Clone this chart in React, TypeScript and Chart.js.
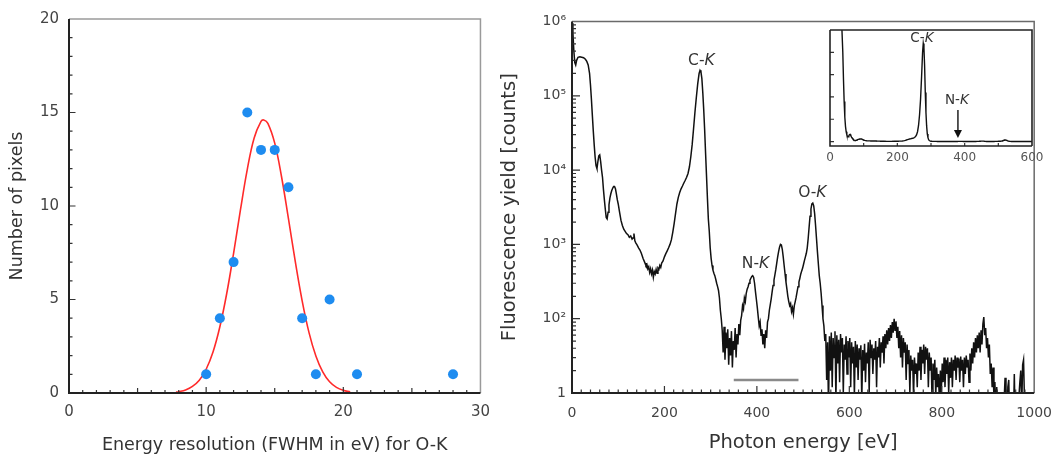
import React, { useEffect, useRef } from 'react';
import { Chart, registerables } from 'chart.js';

Chart.register(...registerables);

// ---------------- Left panel: energy-resolution histogram ----------------
const resolutionEV = [10, 11, 12, 13, 14, 15, 16, 17, 18, 19, 21, 28];
const pixelCounts = [1, 4, 7, 15, 13, 13, 11, 4, 1, 5, 1, 1];
const fitEV = [7.8, 8, 8.5, 9, 9.5, 10, 10.5, 11, 11.5, 12, 12.5, 13, 13.5, 14, 14.2, 14.5, 15, 15.5, 16, 16.5, 17, 17.5, 18, 18.5, 19, 19.5, 20, 20.5];
const fitCounts = [0.05, 0.07, 0.16, 0.35, 0.68, 1.27, 2.19, 3.54, 5.32, 7.47, 9.79, 11.96, 13.64, 14.52, 14.6, 14.42, 13.36, 11.55, 9.32, 7.02, 4.93, 3.23, 1.98, 1.13, 0.6, 0.3, 0.14, 0.06];
const leftXTitle = 'Energy resolution (FWHM in eV) for O-K';
const leftYTitle = 'Number of pixels';

// ---------------- Right panel: fluorescence spectrum ----------------
const smoothEnergy = [0, 2, 4, 6, 8, 10, 13, 17, 21, 25, 29, 32, 35, 38, 40, 42, 44, 46, 48, 50, 52, 54, 56, 58, 60, 62, 64, 66, 68, 70, 72, 74, 76, 78, 80, 82, 84, 86, 88, 90, 92, 94, 96, 98, 100, 103, 106, 109, 112, 115, 118, 121, 124, 127, 130, 132, 134, 136, 138, 141, 144, 147, 150, 152, 154, 156, 158, 160, 162, 164, 166, 168, 170, 172, 174, 176, 178, 180, 182, 184, 186, 188, 190, 192, 194, 197, 200, 203, 206, 209, 212, 215, 218, 221, 224, 227, 230, 233, 236, 239, 242, 245, 248, 251, 254, 257, 260, 263, 266, 269, 272, 275, 277, 279, 281, 283, 285, 287, 289, 291, 293, 295, 297, 299, 301, 303, 305, 307, 309, 311, 313, 315, 317, 319, 321, 323];
const smoothCounts = [9.5e5, 7e5, 4e5, 2.8e5, 2.6e5, 3.0e5, 3.3e5, 3.35e5, 3.3e5, 3.25e5, 3.1e5, 2.9e5, 2.6e5, 2.0e5, 1.4e5, 9e4, 5.5e4, 3.4e4, 2.2e4, 1.5e4, 1.15e4, 1.05e4, 1.3e4, 1.55e4, 1.6e4, 1.3e4, 1.0e4, 8e3, 5.5e3, 4e3, 3e3, 2.3e3, 2.2e3, 2.7e3, 3.4e3, 4.2e3, 4.8e3, 5.3e3, 5.7e3, 6.0e3, 6.0e3, 5.6e3, 4.8e3, 4.0e3, 3.5e3, 2.7e3, 2.1e3, 1.8e3, 1.6e3, 1.5e3, 1.4e3, 1.35e3, 1.25e3, 1.3e3, 1.18e3, 1.22e3, 1.4e3, 1.12e3, 1.05e3, 980, 900, 840, 760, 700, 640, 600, 560, 520, 540, 470, 500, 420, 470, 400, 450, 360, 430, 400, 460, 410, 480, 460, 520, 490, 560, 600, 680, 750, 820, 900, 1000, 1150, 1450, 1900, 2600, 3500, 4300, 5000, 5600, 6100, 6700, 7300, 8000, 9000, 1.1e4, 1.5e4, 2.2e4, 3.6e4, 6e4, 9.5e4, 1.45e5, 2.0e5, 2.2e5, 2.1e5, 1.7e5, 1.1e5, 6.5e4, 3.5e4, 1.7e4, 8.5e3, 4.2e3, 2.2e3, 1.5e3, 900, 650, 520, 450, 410, 380, 340, 300, 270, 240, 190, 130, 100];
// noisy part sampled every 2 eV starting at 325 eV
const noisyStartEV = 325;
const noisyStepEV = 2;
const noisyCounts = [
  70, 35, 78, 28, 65, 40, 72, 24, 55, 32, 68, 22, 50, 38, 75, 30, 62, 45, 85, 60,
  95, 110, 150, 135, 190, 170, 220, 250, 270, 300, 330, 350, 370, 380, 360, 300, 230, 180, 140, 105,
  80, 90, 60, 72, 45, 62, 40, 70, 55, 90, 100, 130, 155, 185, 230, 280, 330, 390, 460, 560,
  680, 800, 920, 1000, 980, 860, 680, 520, 400, 310, 250, 200, 170, 150, 160, 125, 140, 115, 150, 170,
  195, 230, 270, 310, 350, 400, 440, 480, 540, 610, 680, 760, 900, 1200, 1700, 2400, 3000, 3500, 3600, 3300,
  2600, 1800, 1200, 800, 550, 380, 300, 220, 150, 100, 80, 50, 62, 15, 48, 6, 58, 20, 65, 12,
  55, 30, 68, 8, 60, 25, 52, 14, 62, 35, 55, 10, 45, 28, 58, 18, 50, 30, 55, 12,
  48, 25, 42, 9, 50, 22, 45, 15, 40, 28, 44, 8, 38, 20, 46, 14, 35, 25, 48, 10,
  52, 30, 45, 18, 40, 28, 50, 12, 42, 30, 55, 22, 48, 35, 58, 25, 62, 40, 70, 45,
  75, 50, 82, 55, 90, 65, 100, 70, 92, 55, 78, 40, 68, 30, 60, 22, 55, 35, 48, 15,
  45, 25, 38, 10, 32, 20, 28, 9, 30, 18, 25, 12, 35, 20, 42, 15, 38, 25, 45, 18,
  42, 28, 40, 12, 35, 20, 30, 8, 25, 15, 28, 9, 22, 12, 18, 7, 20, 10, 25, 14,
  30, 12, 28, 18, 30, 10, 26, 16, 30, 12, 28, 20, 32, 15, 30, 22, 29, 14, 31, 20,
  28, 12, 30, 18, 32, 22, 28, 14, 34, 20, 40, 25, 48, 30, 55, 35, 60, 40, 65, 35,
  70, 45, 85, 105, 60, 75, 40, 55, 30, 45, 18, 25, 12, 22, 8, 14, 5, 12, 5, 4,
  9, 4, 3, 5, 3, 8, 16, 4, 3, 12, 15, 4, 3, 5, 3, 4, 18, 4, 3, 5,
  3, 9, 14, 20, 6, 24, 28, 8, 4, 3, 5, 3, 3
];
const barEnergy = [350, 490];
const barCounts = [15, 15];
const logTickValues = [10, 100, 1e3, 1e4, 1e5, 1e6];
const logTickLabels = ['1', '10\u00B2', '10\u00B3', '10\u2074', '10\u2075', '10\u2076'];
const peakPrefix = ['C-', 'N-', 'O-'];
const peakShell = ['K', 'K', 'K'];
const peakLabelEV = [280, 397, 520];
const peakLabelCounts = [2.94e5, 545, 4.9e3];
const rightXTitle = 'Photon energy [eV]';
const rightYTitle = 'Fluorescence yield [counts]';

// ---------------- Inset (linear scale) ----------------
const insetLabelPrefix = ['C-', 'N-'];
const insetLabelShell = ['K', 'K'];
const insetLabelEV = [273, 377];
const insetLabelCounts = [2.32e5, 9.3e4];
const insetArrowEV = 380;
const insetArrowFrom = 7.07e4;
const insetArrowTo = 8e3;

const FONT = "'DejaVu Sans', 'Liberation Sans', sans-serif";

function drawKLabel(ctx: CanvasRenderingContext2D, prefix: string, shell: string, cx: number, cy: number, size: number, color: string) {
  const normal = `${size}px ${FONT}`;
  const italic = `italic ${size}px ${FONT}`;
  ctx.font = normal;
  const w1 = ctx.measureText(prefix).width;
  ctx.font = italic;
  const w2 = ctx.measureText(shell).width;
  const x0 = cx - (w1 + w2) / 2;
  ctx.textAlign = 'left';
  ctx.textBaseline = 'middle';
  ctx.fillStyle = color;
  ctx.font = normal;
  ctx.fillText(prefix, x0, cy);
  ctx.font = italic;
  ctx.fillText(shell, x0 + w1, cy);
}

type FrameCfg = {
  xTicks: Array<[number, number]>;
  yTicks: Array<[number, number]>;
  thickColor: string;
  thickWidth: number;
  thinColor: string;
  thinWidth: number;
  tickColor: string;
};

function framePlugin(cfg: FrameCfg) {
  return {
    id: 'frameTicks',
    afterDatasetsDraw(chart: any) {
      const { ctx, chartArea: a, scales } = chart;
      const xs = scales.x;
      const ys = scales.y;
      ctx.save();
      ctx.strokeStyle = cfg.tickColor;
      ctx.lineWidth = 1.2;
      ctx.beginPath();
      for (const [v, len] of cfg.xTicks) {
        const px = xs.getPixelForValue(v);
        ctx.moveTo(px, a.bottom);
        ctx.lineTo(px, a.bottom - len);
      }
      for (const [v, len] of cfg.yTicks) {
        const py = ys.getPixelForValue(v);
        ctx.moveTo(a.left, py);
        ctx.lineTo(a.left + len, py);
      }
      ctx.stroke();
      ctx.lineWidth = cfg.thinWidth;
      ctx.strokeStyle = cfg.thinColor;
      ctx.beginPath();
      ctx.moveTo(a.left, a.top);
      ctx.lineTo(a.right, a.top);
      ctx.lineTo(a.right, a.bottom);
      ctx.stroke();
      ctx.lineWidth = cfg.thickWidth;
      ctx.strokeStyle = cfg.thickColor;
      ctx.beginPath();
      ctx.moveTo(a.left, a.top);
      ctx.lineTo(a.left, a.bottom);
      ctx.lineTo(a.right, a.bottom);
      ctx.stroke();
      ctx.restore();
    },
  };
}

export default function App() {
  const leftRef = useRef<HTMLCanvasElement | null>(null);
  const rightRef = useRef<HTMLCanvasElement | null>(null);
  const insetRef = useRef<HTMLCanvasElement | null>(null);

  useEffect(() => {
    Chart.defaults.font.family = FONT;

    // ---------- left chart ----------
    const lxTicks: Array<[number, number]> = [];
    for (let v = 1; v < 30; v++) lxTicks.push([v, v % 10 === 0 ? 6 : v % 5 === 0 ? 5 : 3]);
    const lyTicks: Array<[number, number]> = [];
    for (let v = 1; v < 20; v++) lyTicks.push([v, v % 5 === 0 ? 6.5 : 3.5]);

    const left = new Chart(leftRef.current!, {
      type: 'scatter',
      data: {
        datasets: [
          {
            label: 'pixels',
            data: resolutionEV.map((x, i) => ({ x, y: pixelCounts[i] })),
            backgroundColor: '#1e8cf0',
            borderWidth: 0,
            pointRadius: 5,
            pointHoverRadius: 5,
          },
          {
            label: 'fit',
            data: fitEV.map((x, i) => ({ x, y: fitCounts[i] })),
            showLine: true,
            borderColor: '#ff2a2a',
            borderWidth: 1.6,
            pointRadius: 0,
            tension: 0.4,
          } as any,
        ],
      },
      options: {
        animation: false,
        responsive: false,
        events: [],
        layout: { padding: { left: 0, top: 18, right: 16.5, bottom: 0 } },
        plugins: { legend: { display: false }, tooltip: { enabled: false } },
        scales: {
          x: {
            type: 'linear',
            min: 0,
            max: 30,
            ticks: { stepSize: 10, padding: 10, color: '#444', font: { size: 15 } },
            grid: { display: false, drawTicks: false },
            border: { display: false },
            title: { display: true, text: leftXTitle, color: '#333', font: { size: 17.5 }, padding: { top: 0, bottom: 1.5 } },
            afterFit: (s: any) => { s.height = 64; },
          },
          y: {
            type: 'linear',
            min: 0,
            max: 20,
            ticks: { stepSize: 5, padding: 10, color: '#444', font: { size: 15 } },
            grid: { display: false, drawTicks: false },
            border: { display: false },
            title: { display: true, text: leftYTitle, color: '#333', font: { size: 17.5 }, padding: { top: 6.5, bottom: 0 } },
            afterFit: (s: any) => { s.width = 69; },
          },
        },
      } as any,
      plugins: [framePlugin({ xTicks: lxTicks, yTicks: lyTicks, thickColor: '#222', thickWidth: 2, thinColor: '#9a9a9a', thinWidth: 1.5, tickColor: '#333' })],
    });

    // ---------- right chart ----------
    const spectrum = [
      ...smoothEnergy.map((x, i) => ({ x, y: smoothCounts[i] })),
      ...noisyCounts.map((y, i) => ({ x: noisyStartEV + i * noisyStepEV, y })),
    ];
    const rxTicks: Array<[number, number]> = [];
    for (let v = 20; v < 1000; v += 20) rxTicks.push([v, v % 200 === 0 ? 7 : 3.5]);
    const ryTicks: Array<[number, number]> = [];
    for (let d = 10; d < 1e6; d *= 10) {
      if (d > 10) ryTicks.push([d, 8]);
      for (let m = 2; m <= 9; m++) ryTicks.push([m * d, 4]);
    }

    const labelPlugin = {
      id: 'peakLabels',
      afterDatasetsDraw(chart: any) {
        const { ctx, scales } = chart;
        ctx.save();
        for (let i = 0; i < peakPrefix.length; i++) {
          drawKLabel(ctx, peakPrefix[i], peakShell[i], scales.x.getPixelForValue(peakLabelEV[i]), scales.y.getPixelForValue(peakLabelCounts[i]), 15.5, '#333');
        }
        ctx.restore();
      },
    };

    const right = new Chart(rightRef.current!, {
      type: 'scatter',
      data: {
        datasets: [
          {
            label: 'spectrum',
            data: spectrum,
            showLine: true,
            borderColor: '#111',
            borderWidth: 1.5,
            pointRadius: 0,
            tension: 0,
          } as any,
          {
            label: 'bar',
            data: barEnergy.map((x, i) => ({ x, y: barCounts[i] })),
            showLine: true,
            borderColor: '#8a8a8a',
            borderWidth: 2.5,
            pointRadius: 0,
          } as any,
        ],
      },
      options: {
        animation: false,
        responsive: false,
        events: [],
        layout: { padding: { left: 0, top: 21.5, right: 21, bottom: 0 } },
        plugins: { legend: { display: false }, tooltip: { enabled: false } },
        scales: {
          x: {
            type: 'linear',
            min: 0,
            max: 1000,
            ticks: { stepSize: 200, padding: 12, color: '#444', font: { size: 14 }, callback: (v: any) => String(v) },
            grid: { display: false, drawTicks: false },
            border: { display: false },
            title: { display: true, text: rightXTitle, color: '#333', font: { size: 19.5 }, padding: { top: 0, bottom: 2.3 } },
            afterFit: (s: any) => { s.height = 64; },
          },
          y: {
            type: 'logarithmic',
            min: 10,
            max: 1e6,
            afterBuildTicks: (s: any) => { s.ticks = logTickValues.map((value) => ({ value })); },
            ticks: {
              padding: 6,
              color: '#444',
              font: { size: 14 },
              callback: (_v: any, i: number) => logTickLabels[i],
            },
            grid: { display: false, drawTicks: false },
            border: { display: false },
            title: { display: true, text: rightYTitle, color: '#333', font: { size: 19.5 }, padding: { top: 8.3, bottom: 0 } },
            afterFit: (s: any) => { s.width = 82; },
          },
        },
      } as any,
      plugins: [
        framePlugin({ xTicks: rxTicks, yTicks: ryTicks, thickColor: '#222', thickWidth: 2, thinColor: '#6a6a6a', thinWidth: 1.5, tickColor: '#333' }),
        labelPlugin,
      ],
    });

    // ---------- inset ----------
    const ixTicks: Array<[number, number]> = [];
    for (let v = 100; v < 600; v += 100) ixTicks.push([v, 3]);
    const iyTicks: Array<[number, number]> = [];
    for (let v = 0; v < 2.5e5; v += 5e4) iyTicks.push([v, 4]);

    const insetPlugin = {
      id: 'insetDecor',
      beforeDatasetsDraw(chart: any) {
        const { ctx, chartArea: a } = chart;
        ctx.save();
        ctx.fillStyle = '#fff';
        ctx.fillRect(a.left, a.top, a.right - a.left, a.bottom - a.top);
        ctx.restore();
      },
      afterDatasetsDraw(chart: any) {
        const { ctx, scales } = chart;
        ctx.save();
        for (let i = 0; i < insetLabelPrefix.length; i++) {
          drawKLabel(ctx, insetLabelPrefix[i], insetLabelShell[i], scales.x.getPixelForValue(insetLabelEV[i]), scales.y.getPixelForValue(insetLabelCounts[i]), 13.5, '#333');
        }
        const ax = scales.x.getPixelForValue(insetArrowEV);
        const y1 = scales.y.getPixelForValue(insetArrowFrom);
        const y2 = scales.y.getPixelForValue(insetArrowTo);
        ctx.strokeStyle = '#111';
        ctx.lineWidth = 1.4;
        ctx.beginPath();
        ctx.moveTo(ax, y1);
        ctx.lineTo(ax, y2 - 6);
        ctx.stroke();
        ctx.fillStyle = '#111';
        ctx.beginPath();
        ctx.moveTo(ax - 4, y2 - 8);
        ctx.lineTo(ax + 4, y2 - 8);
        ctx.lineTo(ax, y2);
        ctx.closePath();
        ctx.fill();
        ctx.restore();
      },
    };

    const inset = new Chart(insetRef.current!, {
      type: 'scatter',
      data: {
        datasets: [
          {
            label: 'inset',
            data: spectrum,
            showLine: true,
            borderColor: '#111',
            borderWidth: 1.4,
            pointRadius: 0,
          } as any,
        ],
      },
      options: {
        animation: false,
        responsive: false,
        events: [],
        layout: { padding: { left: 30, top: 10, right: 18, bottom: 0 } },
        plugins: { legend: { display: false }, tooltip: { enabled: false } },
        scales: {
          x: {
            type: 'linear',
            min: 0,
            max: 600,
            ticks: { stepSize: 200, padding: 4.8, color: '#555', font: { size: 12 } },
            grid: { display: false, drawTicks: false },
            border: { display: false },
            afterFit: (s: any) => { s.height = 34; },
          },
          y: {
            type: 'linear',
            display: false,
            min: -1e4,
            max: 2.5e5,
          },
        },
      } as any,
      plugins: [
        insetPlugin,
        framePlugin({ xTicks: ixTicks, yTicks: iyTicks, thickColor: '#222', thickWidth: 1.6, thinColor: '#222', thinWidth: 1.6, tickColor: '#333' }),
      ],
    });

    return () => {
      left.destroy();
      right.destroy();
      inset.destroy();
    };
  }, []);

  return (
    <div style={{ position: 'absolute', left: 0, top: 0, width: 1064, height: 457, background: '#fff', overflow: 'hidden' }}>
      <canvas ref={leftRef} width={500} height={457} style={{ position: 'absolute', left: 0, top: 0 }} />
      <canvas ref={rightRef} width={574} height={457} style={{ position: 'absolute', left: 490, top: 0 }} />
      <canvas ref={insetRef} width={250} height={160} style={{ position: 'absolute', left: 800, top: 20 }} />
    </div>
  );
}
